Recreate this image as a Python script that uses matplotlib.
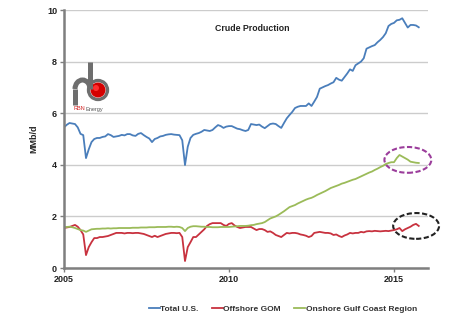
import matplotlib
matplotlib.use("Agg")

import numpy as np
import matplotlib.pyplot as plt
from matplotlib.patches import Ellipse, Arc, Circle
from matplotlib.lines import Line2D

plt.rcParams["font.family"] = ["Liberation Sans", "DejaVu Sans"]

# -------------------------------------------------------
# Monthly crude production, MMb/d, Jan 2005 - Oct 2015
# -------------------------------------------------------
START_YEAR = 2005

total_us = [
    5.45, 5.55, 5.62, 5.60, 5.58, 5.45, 5.20, 5.15, 4.26, 4.60, 4.88, 5.00,  # 2005
    5.04, 5.04, 5.08, 5.10, 5.19, 5.15, 5.08, 5.10, 5.12, 5.16, 5.14, 5.19,  # 2006
    5.19, 5.14, 5.12, 5.20, 5.23, 5.15, 5.08, 5.02, 4.88, 5.00, 5.04, 5.10,  # 2007
    5.12, 5.16, 5.18, 5.19, 5.17, 5.16, 5.15, 4.95, 3.99, 4.70, 5.04, 5.16,  # 2008
    5.20, 5.23, 5.28, 5.35, 5.33, 5.31, 5.35, 5.45, 5.54, 5.50, 5.43, 5.48,  # 2009
    5.50, 5.50, 5.45, 5.40, 5.38, 5.34, 5.31, 5.35, 5.58, 5.56, 5.54, 5.56,  # 2010
    5.48, 5.42, 5.50, 5.58, 5.60, 5.58, 5.50, 5.43, 5.62, 5.80, 5.93, 6.05,  # 2011
    6.20, 6.25, 6.28, 6.28, 6.28, 6.38, 6.28, 6.45, 6.63, 6.95, 7.00, 7.05,  # 2012
    7.09, 7.15, 7.20, 7.37, 7.30, 7.26, 7.40, 7.54, 7.70, 7.64, 7.86, 7.93,  # 2013
    8.00, 8.13, 8.50, 8.55, 8.60, 8.64, 8.75, 8.84, 8.95, 9.10, 9.38, 9.46,  # 2014
    9.50, 9.60, 9.62, 9.68, 9.50, 9.32, 9.42, 9.42, 9.40, 9.33,              # 2015
]

offshore_gom = [
    1.55, 1.57, 1.59, 1.63, 1.67, 1.60, 1.47, 1.30, 0.50, 0.81, 1.00, 1.16,
    1.16, 1.20, 1.20, 1.22, 1.24, 1.28, 1.32, 1.36, 1.36, 1.36, 1.34, 1.36,
    1.36, 1.35, 1.36, 1.36, 1.34, 1.32, 1.28, 1.24, 1.20, 1.25, 1.20, 1.24,
    1.28, 1.32, 1.34, 1.36, 1.36, 1.35, 1.36, 1.20, 0.27, 0.81, 1.00, 1.20,
    1.20, 1.30, 1.40, 1.50, 1.63, 1.70, 1.74, 1.74, 1.74, 1.74, 1.67, 1.63,
    1.71, 1.74, 1.65, 1.59, 1.55, 1.57, 1.59, 1.59, 1.59, 1.53, 1.47, 1.51,
    1.51, 1.47, 1.40, 1.42, 1.36, 1.28, 1.24, 1.20, 1.28, 1.36, 1.34, 1.36,
    1.36, 1.34, 1.30, 1.28, 1.25, 1.20, 1.24, 1.36, 1.38, 1.40, 1.38, 1.36,
    1.36, 1.34, 1.28, 1.30, 1.24, 1.20, 1.26, 1.30, 1.36, 1.34, 1.36, 1.36,
    1.40, 1.38, 1.42, 1.43, 1.42, 1.44, 1.43, 1.42, 1.43, 1.44, 1.43, 1.45,
    1.47, 1.50, 1.55, 1.43, 1.50, 1.55, 1.60, 1.67, 1.71, 1.63,
]

onshore_gulf = [
    1.59, 1.59, 1.60, 1.58, 1.55, 1.51, 1.47, 1.45, 1.40, 1.45, 1.50, 1.51,
    1.52, 1.52, 1.53, 1.53, 1.54, 1.53, 1.54, 1.54, 1.55, 1.55, 1.55, 1.55,
    1.55, 1.56, 1.56, 1.56, 1.57, 1.57, 1.57, 1.58, 1.58, 1.58, 1.59, 1.59,
    1.59, 1.59, 1.60, 1.60, 1.59, 1.60, 1.59, 1.55, 1.43, 1.55, 1.60, 1.62,
    1.62, 1.61, 1.60, 1.60, 1.59, 1.59, 1.58, 1.58, 1.58, 1.59, 1.59, 1.59,
    1.59, 1.60, 1.61, 1.62, 1.63, 1.63, 1.63, 1.64, 1.66, 1.67, 1.70, 1.72,
    1.74, 1.78, 1.85, 1.92, 1.96, 2.00, 2.06, 2.13, 2.20, 2.28, 2.36, 2.40,
    2.44, 2.50, 2.55, 2.60, 2.65, 2.69, 2.72, 2.77, 2.83, 2.88, 2.93, 2.98,
    3.04, 3.10, 3.14, 3.18, 3.22, 3.27, 3.30, 3.34, 3.38, 3.42, 3.45, 3.50,
    3.55, 3.60, 3.65, 3.70, 3.74, 3.80, 3.85, 3.91, 3.96, 4.03, 4.07, 4.10,
    4.10, 4.26, 4.38, 4.32, 4.26, 4.20, 4.12, 4.10, 4.08, 4.07,
]

series_names = ["Total U.S.", "Offshore GOM", "Onshore Gulf Coast Region"]
x_ticks = [2005, 2010, 2015]
y_ticks = [0, 2, 4, 6, 8, 10]

colors = ["#4A7EBB", "#C8323F", "#9BBB59"]

# decimal-year x positions, one per month
months = np.arange(len(total_us))
x = START_YEAR + months / 12.0

fig = plt.figure(figsize=(4.5, 3.28), dpi=100)
ax = fig.add_axes([64 / 450, 1 - 268 / 328, 364 / 450, 258 / 328])

for vals, c, name in zip([total_us, offshore_gom, onshore_gulf], colors, series_names):
    ax.plot(x, vals, color=c, lw=1.3, label=name)

ax.set_xlim(2005, 2005 + 364 / 33)
ax.set_ylim(0, 10)
ax.set_xticks(x_ticks)
ax.set_xticklabels([str(t) for t in x_ticks])
ax.set_yticks(y_ticks)
ax.set_yticklabels([str(t) for t in y_ticks])
for lbl in ax.get_xticklabels() + ax.get_yticklabels():
    lbl.set_fontweight("bold")
    lbl.set_fontsize(6.5)
    lbl.set_color("#222222")

ax.yaxis.grid(True, color="#CCCCCC", lw=1.0)
ax.set_axisbelow(True)
for s in ["top", "right"]:
    ax.spines[s].set_visible(False)
for s in ["left", "bottom"]:
    ax.spines[s].set_color("#7F7F7F")
    ax.spines[s].set_linewidth(1.8)
ax.tick_params(axis="both", direction="out", length=3, width=1, color="#7F7F7F", pad=2)

ax.set_ylabel("MMb/d", fontsize=6.5, fontweight="bold", color="#222222", labelpad=6)
ax.text(0.517, 0.93, "Crude Production", transform=ax.transAxes, ha="center", va="center",
        fontsize=6.3, fontweight="bold", color="#222222")

# dashed highlight circles around 2015
ax.add_patch(Ellipse((2015.42, 4.19), 1.42, 1.0, fill=False, ls=(0, (2.5, 1.2)),
                     lw=1.5, ec="#9B3D9B", clip_on=False))
ax.add_patch(Ellipse((2015.67, 1.63), 1.39, 1.0, fill=False, ls=(0, (2.5, 1.2)),
                     lw=1.5, ec="#222222", clip_on=False))

# legend below the plot
handles = [Line2D([], [], color=c, lw=1.3) for c in colors]
leg = fig.legend(handles, series_names, loc="center", bbox_to_anchor=(283 / 450, 1 - 309 / 328),
                 ncol=3, frameon=False, handlelength=1.3, handletextpad=0.05,
                 columnspacing=1.6, borderpad=0, prop={"size": 6, "weight": "bold"})
for t in leg.get_texts():
    t.set_color("#333333")

# rough RBN Energy logo
lax = fig.add_axes([70 / 450, 1 - 113 / 328, 40 / 450, 55 / 328])
lax.set_xlim(0, 40)
lax.set_ylim(55, 0)
lax.set_aspect("equal")
lax.axis("off")
gray = "#6E6E6E"
lax.add_patch(Arc((12.5, 31), 15, 18, theta1=180, theta2=360, lw=3.6, color=gray))
lax.plot([5, 5], [31, 47], color=gray, lw=3.6, solid_capstyle="butt")
lax.plot([20, 20], [4, 31], color=gray, lw=3.6, solid_capstyle="butt")
lax.add_patch(Circle((28, 32), 9.5, fc="none", ec=gray, lw=2.4))
lax.add_patch(Circle((28, 32), 7.5, fc="#D40000", ec="none"))
lax.add_patch(Circle((26, 30), 3, fc="#FF3030", ec="none"))
lax.text(3, 51, "RBN", color="#D02020", fontsize=4.0, va="center")
lax.text(16, 51, "Energy", color="#555555", fontsize=4.0, va="center")

fig.savefig("out.png", dpi=100)
